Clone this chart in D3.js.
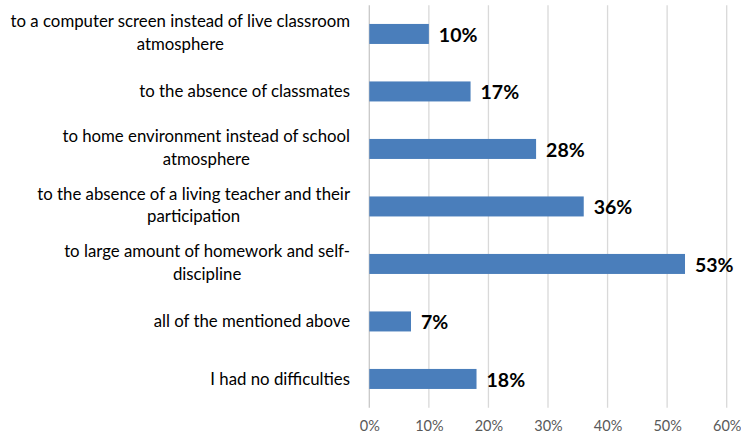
<!DOCTYPE html>
<html>
<head>
<meta charset="utf-8">
<script src="https://cdn.jsdelivr.net/npm/d3@7"></script>
<style>
  html, body { margin: 0; padding: 0; background: #fff; }
  svg { display: block; }
</style>
</head>
<body>
<svg id="chart" width="741" height="438"></svg>
<script>
// Reasons for difficulties with distance learning (share of respondents)
const categories = [
  ["to a computer screen instead of live classroom", "atmosphere"],
  ["to the absence of classmates"],
  ["to home environment instead of school", "atmosphere"],
  ["to the absence of a living teacher and their", "participation"],
  ["to large amount of homework and self-", "discipline"],
  ["all of the mentioned above"],
  ["I had no difficulties"]
];
const values = [10, 17, 28, 36, 53, 7, 18];
const tickValues = [0, 10, 20, 30, 40, 50, 60];

const svg = d3.select("#chart");
const margin = { left: 369.3, right: 14.3, top: 5.2, bottom: 30.3 };
const W = 741, H = 438;

const x = d3.scaleLinear()
  .domain([0, 60])
  .range([margin.left, W - margin.right]);

const y = d3.scaleBand()
  .domain(d3.range(categories.length))
  .range([margin.top, H - margin.bottom])
  .paddingInner(0.652)
  .paddingOuter(0.326);

// vertical gridlines
svg.append("g")
  .selectAll("line")
  .data(tickValues)
  .join("line")
  .attr("x1", d => x(d)).attr("x2", d => x(d))
  .attr("y1", margin.top).attr("y2", H - margin.bottom)
  .attr("stroke", d => d === 0 ? "#c8c8c8" : "#d9d9d9")
  .attr("stroke-width", 1.3);

// x axis tick labels
const xAxis = d3.axisBottom(x)
  .tickValues(tickValues)
  .tickFormat(d => d + "%")
  .tickSize(0)
  .tickPadding(0);
const gx = svg.append("g")
  .attr("transform", `translate(0,${H - margin.bottom + 13})`)
  .call(xAxis);
gx.select(".domain").remove();
gx.selectAll("text")
  .attr("font-family", "Lato, 'Open Sans', sans-serif")
  .attr("font-size", 14.5)
  .attr("fill", "#595959");

// bars
svg.append("g")
  .selectAll("rect")
  .data(values)
  .join("rect")
  .attr("x", x(0))
  .attr("y", (d, i) => y(i))
  .attr("width", d => x(d) - x(0))
  .attr("height", y.bandwidth())
  .attr("fill", "#4a7ebb");

// value labels
svg.append("g")
  .selectAll("text")
  .data(values)
  .join("text")
  .attr("x", d => x(d) + 10)
  .attr("y", (d, i) => y(i) + y.bandwidth() / 2 + 1)
  .attr("dy", "0.35em")
  .attr("font-family", "Lato, 'Open Sans', sans-serif")
  .attr("font-weight", "bold")
  .attr("font-size", 19.5)
  .attr("fill", "#000")
  .text(d => d + "%");

// category labels: wrapped lines centered within a block right-aligned at the axis
const labelRight = 350;
const lineH = 22.5;
const gl = svg.append("g")
  .attr("font-family", "Lato, 'Open Sans', sans-serif")
  .attr("font-size", 16.8)
  .attr("fill", "#000");

categories.forEach((lines, i) => {
  const cy = y(i) + y.bandwidth() / 2;
  const g = gl.append("g");
  const texts = lines.map((t, k) =>
    g.append("text")
      .attr("y", cy + (k - (lines.length - 1) / 2) * lineH - (lines.length > 1 ? 1.5 : 0))
      .attr("dy", "0.35em")
      .text(t)
  );
  const widths = texts.map(t => t.node().getComputedTextLength());
  const maxW = d3.max(widths);
  const center = labelRight - maxW / 2;
  texts.forEach(t => t.attr("x", center).attr("text-anchor", "middle"));
});
</script>
</body>
</html>
